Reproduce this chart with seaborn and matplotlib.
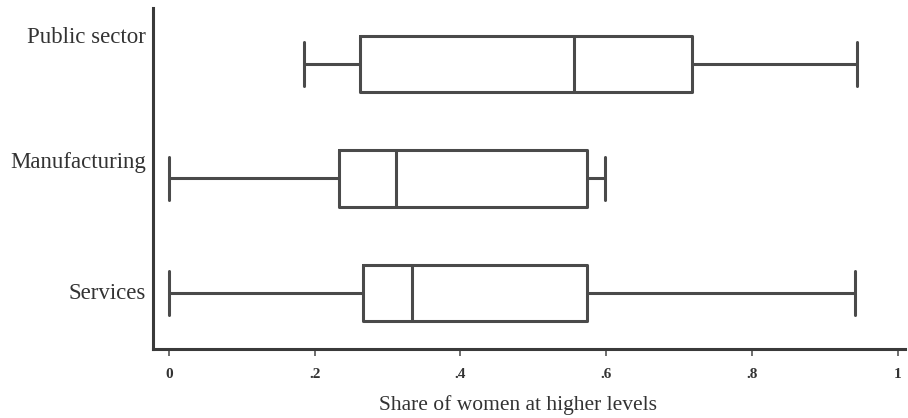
import numpy as np
import pandas as pd
import seaborn as sb
import matplotlib.pyplot as plt

# sectors, top to bottom
aSectors = ["Public sector", "Manufacturing", "Services"]

# five-number summary per sector (min, q1, median, q3, max)
aPublic = [0.185, 0.262, 0.556, 0.718, 0.945]
aManufacturing = [0.0, 0.234, 0.312, 0.574, 0.599]
aServices = [0.0, 0.266, 0.334, 0.574, 0.941]

aTicks = [0, 0.2, 0.4, 0.6, 0.8, 1]
aTickLabels = ["0", ".2", ".4", ".6", ".8", "1"]

# the sector labels sit a bit above their boxes in the original
aLabelOffsets = [-0.25, -0.16, -0.02]

# with 5 values per group the quartiles are exactly the 2nd, 3rd and 4th value
pdPlotData = pd.DataFrame({
    "sector": np.repeat(aSectors, 5),
    "share": aPublic + aManufacturing + aServices,
})

sb.set_style("white")
plt.rcParams["font.family"] = ["Liberation Serif", "DejaVu Serif"]

oFig = plt.figure(figsize=(9.08, 4.18), dpi=100, facecolor="white")
oAx = oFig.add_axes([0.1685, 0.165, 0.828, 0.816])

sLineColor = "#4a4a4a"
sb.boxplot(data=pdPlotData, x="share", y="sector", order=aSectors,
           whis=(0, 100), width=0.49, fill=False, color=sLineColor,
           linecolor=sLineColor, linewidth=2.2, capwidths=0.38, ax=oAx)

oAx.set_xlim(-0.022, 1.01)
oAx.set_ylim(2.49, -0.49)
oAx.set_xticks(aTicks)
oAx.set_xticklabels(aTickLabels, fontsize=11, fontweight="bold", color="#333333")
oAx.set_yticks([i + d for i, d in enumerate(aLabelOffsets)])
oAx.set_yticklabels(aSectors)
oAx.tick_params(axis="x", direction="out", length=5, width=1.2, color="#555555",
                bottom=True, pad=9)
oAx.tick_params(axis="y", length=0, labelsize=16.5, labelcolor="#333333", pad=5)
oAx.set_xlabel("Share of women at higher levels", fontsize=15.5, color="#333333")
oAx.xaxis.set_label_coords(0.485, -0.135)
oAx.set_ylabel("")

for sSide in ["top", "right"]:
    oAx.spines[sSide].set_visible(False)
for sSide in ["left", "bottom"]:
    oAx.spines[sSide].set_linewidth(2.2)
    oAx.spines[sSide].set_color("#3a3a3a")

oFig.savefig("out.png", dpi=100, facecolor="white")
